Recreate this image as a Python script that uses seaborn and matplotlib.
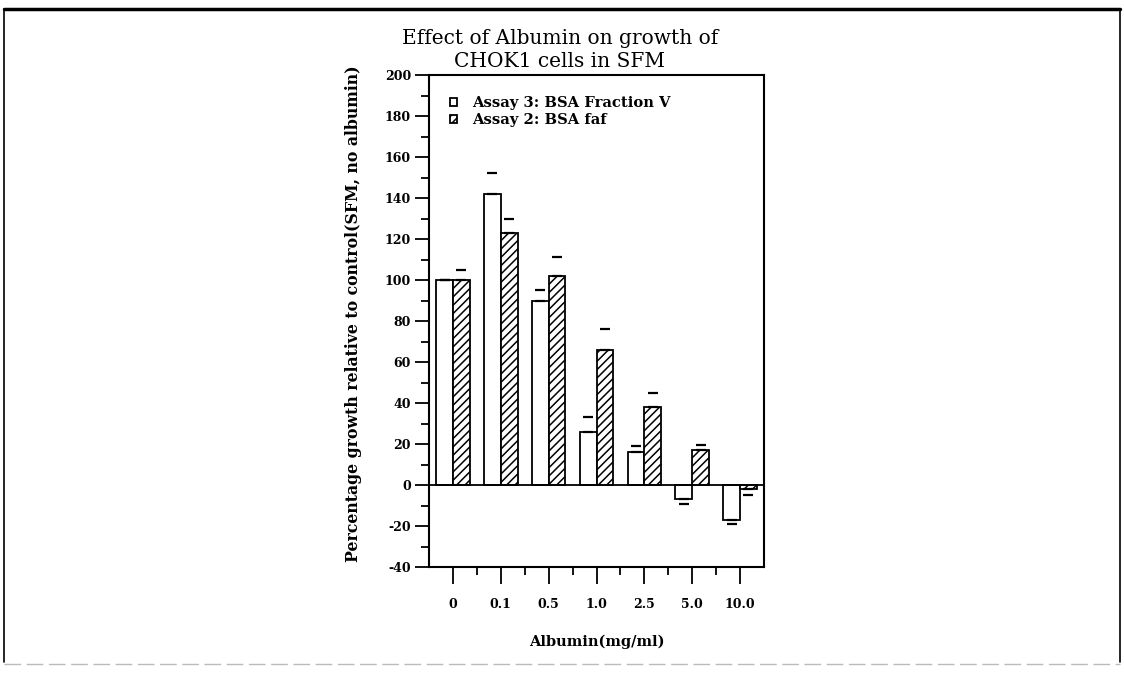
import numpy as np
import pandas as pd
import matplotlib
matplotlib.use("Agg")
import matplotlib.pyplot as plt
import matplotlib.lines as mlines
import seaborn as sns
from matplotlib.ticker import MultipleLocator, FixedLocator

# ---- data ----
concentrations = ["0", "0.1", "0.5", "1.0", "2.5", "5.0", "10.0"]
series_names = ["Assay 3: BSA Fraction V", "Assay 2: BSA faf"]
fraction_v = [100, 142, 90, 26, 16, -7, -17]
faf = [100, 123, 102, 66, 38, 17, -2]
err_fraction_v = [0, 10, 5, 7, 3, 2.5, 2]
err_faf = [5, 7, 9, 10, 7, 2.5, 3]

title_text = "Effect of Albumin on growth of\nCHOK1 cells in SFM"
ylabel_text = "Percentage growth relative to control(SFM, no albumin)"
xlabel_text = "Albumin(mg/ml)"

df = pd.DataFrame({
    "conc": concentrations * 2,
    "assay": [series_names[0]] * len(concentrations) + [series_names[1]] * len(concentrations),
    "value": fraction_v + faf,
})

sns.set_style("ticks")
plt.rcParams["font.family"] = ["DejaVu Serif", "DejaVu Sans"]
plt.rcParams["hatch.linewidth"] = 1.1
plt.rcParams["axes.unicode_minus"] = False
for k in ["text.color", "axes.labelcolor", "xtick.color", "ytick.color", "axes.edgecolor"]:
    plt.rcParams[k] = "black"

W, H = 1124, 674
fig = plt.figure(figsize=(W / 100, H / 100), dpi=100)
ax = fig.add_axes([429 / W, 1 - 567 / H, (764 - 429) / W, (567 - 75) / H])

sns.barplot(data=df, x="conc", y="value", hue="assay", order=concentrations,
            hue_order=series_names, palette=["white", "white"], edgecolor="black",
            linewidth=1.3, width=0.7, errorbar=None, ax=ax, legend=False)

# hatch the second series
for p in ax.containers[1].patches:
    p.set_hatch("////")

# error caps
for cont, vals, errs in zip(ax.containers, [fraction_v, faf], [err_fraction_v, err_faf]):
    xs = [p.get_x() + p.get_width() / 2 for p in cont.patches]
    vals = np.array(vals, dtype=float)
    errs = np.array(errs, dtype=float)
    upper = np.where(vals >= 0, errs, 0)
    lower = np.where(vals < 0, errs, 0)
    ax.errorbar(xs, vals, yerr=[lower, upper], fmt="none", ecolor="black",
                elinewidth=0, capsize=3.6, capthick=1.6, zorder=5)

ax.axhline(0, color="black", lw=1.3, zorder=4)

ax.set_ylim(-40, 200)
ax.set_xlim(-0.5, 6.5)
ax.yaxis.set_major_locator(MultipleLocator(20))
ax.yaxis.set_minor_locator(MultipleLocator(10))
ax.xaxis.set_minor_locator(FixedLocator(np.arange(0.5, 6, 1.0)))

for s in ax.spines.values():
    s.set_visible(True)
    s.set_linewidth(1.5)
    s.set_color("black")

ax.tick_params(axis="y", which="major", direction="out", length=10, width=1.3, pad=3,
               labelsize=9)
ax.tick_params(axis="y", which="minor", direction="out", length=5.5, width=1.3)
ax.tick_params(axis="x", which="major", direction="out", length=12, width=1.3, pad=10,
               labelsize=9)
ax.tick_params(axis="x", which="minor", direction="out", length=6, width=1.3)
for lab in ax.get_xticklabels() + ax.get_yticklabels():
    lab.set_fontweight("bold")

ax.set_ylabel(ylabel_text, fontsize=11.3, fontweight="bold")
ax.yaxis.set_label_coords(-0.2, 0.515)
ax.set_xlabel(xlabel_text, fontsize=10.5, fontweight="bold", labelpad=17)

leg = ax.legend(ax.containers, series_names, loc="upper left",
                bbox_to_anchor=(0.063, 0.957), frameon=False, fontsize=10.6,
                handlelength=0.5, handleheight=0.5, handletextpad=1.0,
                labelspacing=0.2, borderpad=0, borderaxespad=0)
for t in leg.get_texts():
    t.set_fontweight("bold")

fig.text(560 / W, 1 - 29 / H, title_text, ha="center", va="top", fontsize=14.5,
         linespacing=1.25)

# page border
fig.add_artist(mlines.Line2D([4 / W, 1120 / W], [1 - 9 / H, 1 - 9 / H], color="black", lw=2.5))
fig.add_artist(mlines.Line2D([4 / W, 4 / W], [1 - 9 / H, 1 - 662 / H], color="black", lw=1.2))
fig.add_artist(mlines.Line2D([1120 / W, 1120 / W], [1 - 9 / H, 1 - 662 / H], color="black", lw=1.2))
fig.add_artist(mlines.Line2D([4 / W, 1120 / W], [1 - 664 / H, 1 - 664 / H], color="#bbbbbb",
                             lw=1.0, ls=(0, (12, 4))))

fig.savefig("out.png", dpi=100, facecolor="white")
